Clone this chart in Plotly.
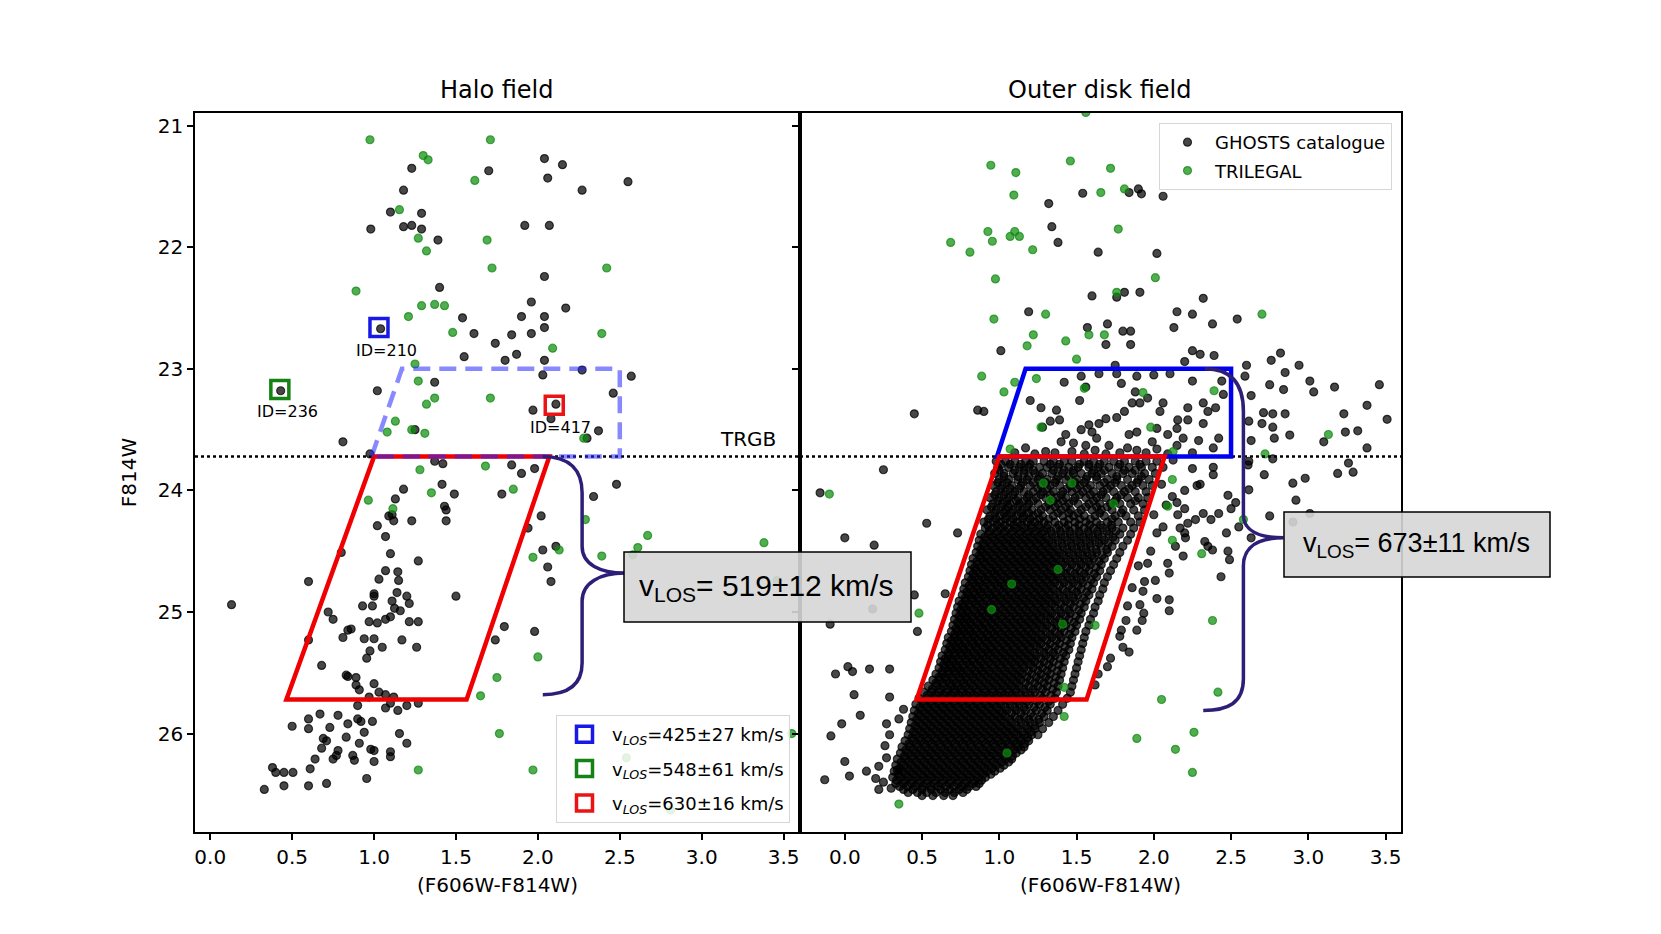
import plotly.graph_objects as go

# ---------------- data ----------------
# Halo field: GHOSTS catalogue stars (colour, F814W)
halo_ghosts = [
    (1.23, 21.35), (1.70, 21.37), (2.04, 21.27), (2.15, 21.32), (2.06, 21.43), (2.55, 21.46),
    (2.27, 21.53), (1.18, 21.53), (1.10, 21.71), (1.29, 21.72), (0.98, 21.85), (1.18, 21.83),
    (1.23, 21.82), (1.29, 21.85), (1.39, 21.94), (1.92, 21.82), (2.07, 21.82), (2.04, 22.24),
    (1.40, 22.33), (1.96, 22.45), (2.17, 22.50), (1.90, 22.57), (2.04, 22.57), (1.54, 22.58),
    (2.04, 22.66), (1.61, 22.71), (1.84, 22.72), (1.96, 22.71), (1.74, 22.79), (1.04, 22.67),
    (1.55, 22.90), (1.80, 22.93), (1.87, 22.88), (2.04, 22.93), (2.03, 23.05), (2.27, 23.01),
    (2.57, 23.06), (1.37, 23.11), (1.02, 23.18), (0.43, 23.18), (2.46, 23.20), (2.11, 23.29),
    (1.97, 23.34), (2.08, 23.41), (1.25, 23.50), (2.37, 23.51), (2.30, 23.57), (0.81, 23.60),
    (0.975, 23.70), (1.37, 23.76), (1.42, 23.78), (1.84, 23.79), (1.90, 23.86), (1.98, 23.82),
    (2.48, 23.95), (1.415, 23.95), (1.18, 23.99), (1.49, 24.03), (1.78, 24.03), (1.13, 24.07),
    (2.34, 24.05), (1.43, 24.13), (1.44, 24.16), (1.44, 24.25), (1.23, 24.25), (1.09, 24.21),
    (1.12, 24.25), (1.11, 24.20), (1.02, 24.29), (2.02, 24.21), (1.94, 24.31), (1.07, 24.38),
    (0.80, 24.51), (1.10, 24.52), (1.27, 24.58), (2.03, 24.49), (2.11, 24.46), (2.06, 24.63),
    (2.08, 24.75), (1.07, 24.66), (1.145, 24.67), (1.03, 24.73), (1.15, 24.74), (0.60, 24.75),
    (0.13, 24.94), (1.50, 24.87), (1.00, 24.85), (1.00, 24.87), (1.14, 24.84), (1.20, 24.87),
    (1.11, 24.91), (1.215, 24.93), (0.99, 24.95), (0.93, 24.95), (1.125, 24.97), (1.16, 24.99),
    (1.10, 25.04), (1.07, 25.06), (0.97, 25.08), (1.02, 25.09), (0.72, 25.00), (0.75, 25.06),
    (1.215, 25.08), (1.27, 25.08), (0.86, 25.14), (0.84, 25.15), (0.81, 25.21), (0.94, 25.22),
    (1.00, 25.22), (1.17, 25.23), (1.05, 25.29), (1.26, 25.29), (0.975, 25.32), (0.955, 25.38),
    (0.60, 25.23), (1.795, 25.12), (1.74, 25.23), (1.98, 25.16), (0.68, 25.44), (0.83, 25.52),
    (0.84, 25.53), (0.89, 25.54), (0.89, 25.60), (1.00, 25.59), (0.91, 25.64), (1.03, 25.66),
    (1.07, 25.68), (0.90, 25.77), (0.97, 25.70), (1.10, 25.75), (1.12, 25.70), (1.20, 25.77),
    (1.27, 25.75), (1.07, 25.79), (1.145, 25.81), (0.67, 25.84), (0.60, 25.88), (0.78, 25.85),
    (0.90, 25.88), (0.92, 25.90), (0.84, 25.92), (0.99, 25.90), (0.73, 25.95), (0.60, 25.96),
    (0.50, 25.94), (0.94, 25.99), (1.155, 26.00), (0.69, 26.04), (0.83, 26.03), (0.71, 26.06),
    (0.91, 26.08), (1.20, 26.08), (0.68, 26.12), (0.98, 26.13), (1.00, 26.14), (0.78, 26.14),
    (0.77, 26.18), (0.75, 26.21), (0.87, 26.18), (1.10, 26.15), (1.10, 26.19), (1.00, 26.23),
    (0.88, 26.22), (0.64, 26.21), (0.61, 26.29), (0.38, 26.28), (0.40, 26.32), (0.45, 26.32),
    (0.505, 26.32), (0.955, 26.37), (0.33, 26.46), (0.45, 26.43), (0.60, 26.43), (0.71, 26.41),
]

# Halo field: TRILEGAL foreground model
halo_trilegal = [
    (0.975, 21.115), (1.71, 21.115), (1.30, 21.245), (1.33, 21.28), (1.615, 21.45), (1.155, 21.69),
    (1.27, 21.925), (1.69, 21.94), (1.32, 22.03), (1.72, 22.17), (2.42, 22.17), (0.89, 22.36),
    (1.29, 22.48), (1.37, 22.47), (1.43, 22.48), (1.21, 22.57), (1.48, 22.70), (2.39, 22.71),
    (2.09, 22.83), (1.25, 22.96), (1.27, 23.10), (1.37, 23.24), (1.32, 23.29), (1.71, 23.24),
    (1.13, 23.43), (1.08, 23.52), (1.23, 23.50), (1.31, 23.53), (2.28, 23.57), (1.28, 23.83),
    (1.68, 23.80), (0.965, 24.08), (1.115, 24.15), (1.35, 24.02), (1.85, 23.99), (2.29, 24.24),
    (2.67, 24.37), (2.61, 24.47), (2.39, 24.54), (2.13, 24.49), (1.97, 24.55), (3.38, 24.43),
    (2.58, 24.53), (2.00, 25.37), (1.75, 25.54), (1.65, 25.69), (1.765, 26.00), (1.27, 26.30),
    (1.97, 26.30), (3.55, 26.00), (3.46, 24.74), (2.54, 26.20), (2.81, 26.63),
]

# Outer disk field: scattered GHOSTS stars outside the dense RGB
disk_ghosts_sparse = [
    (1.54, 21.555), (1.84, 21.55), (1.92, 21.56), (1.90, 21.52), (2.06, 21.58), (1.32, 21.64),
    (1.34, 21.83), (1.38, 21.96), (1.64, 22.04), (2.02, 22.05), (1.60, 22.40), (1.81, 22.37),
    (1.91, 22.37), (1.76, 22.41), (2.32, 22.42), (1.19, 22.53), (2.15, 22.53), (2.25, 22.55),
    (2.54, 22.59), (2.38, 22.63), (2.13, 22.66), (1.57, 22.66), (1.70, 22.63), (1.80, 22.69),
    (1.85, 22.69), (1.69, 22.80), (1.85, 22.80), (1.01, 22.85), (2.25, 22.85), (2.30, 22.88),
    (2.39, 22.89), (2.20, 22.94), (2.82, 22.87), (2.76, 22.93), (2.94, 22.97), (2.60, 22.97),
    (1.75, 22.97), (2.85, 23.03), (2.59, 23.06), (3.46, 23.13), (3.17, 23.15), (3.01, 23.10),
    (3.035, 23.19), (2.75, 23.13), (2.84, 23.17), (2.63, 23.22), (3.38, 23.30), (3.23, 23.37),
    (3.51, 23.415), (0.45, 23.37), (0.86, 23.34), (0.90, 23.35), (2.71, 23.36), (2.77, 23.37),
    (2.85, 23.37), (2.615, 23.43), (2.70, 23.45), (2.77, 23.48), (3.24, 23.52), (3.32, 23.51),
    (2.88, 23.545), (2.78, 23.57), (3.10, 23.60), (3.38, 23.65), (2.63, 23.59), (2.77, 23.74),
    (0.25, 23.83), (2.61, 23.79),
    # inside the upper (AGB) box
    (1.20, 23.26), (1.42, 23.11), (1.53, 23.06), (1.645, 23.04), (1.76, 23.04), (1.89, 23.06),
    (2.00, 23.05), (2.105, 23.04), (2.25, 23.10), (2.44, 23.10), (2.45, 23.21), (2.40, 23.32),
    (2.32, 23.28), (2.22, 23.32), (2.22, 23.42), (2.15, 23.49), (2.19, 23.57), (2.09, 23.54),
    (2.02, 23.49), (2.04, 23.35), (2.06, 23.28), (1.96, 23.24), (1.88, 23.19), (1.86, 23.28),
    (1.91, 23.28), (1.81, 23.35), (1.76, 23.40), (1.69, 23.41), (1.645, 23.45), (1.58, 23.46),
    (1.53, 23.50), (1.63, 23.57), (1.52, 23.26), (1.37, 23.34), (1.39, 23.42), (1.33, 23.43),
    (1.28, 23.48), (1.56, 23.15), (1.79, 23.12), (1.89, 23.52), (1.99, 23.60), (1.83, 23.65),
    (1.89, 23.67), (1.71, 23.63), (1.56, 23.63), (1.48, 23.61), (1.40, 23.60), (1.30, 23.68),
    (1.23, 23.70), (1.17, 23.65), (2.385, 23.65), (2.42, 23.57), (2.29, 23.59), (2.15, 23.63),
    (2.09, 23.70), (1.69, 23.70), (2.155, 23.42), (2.32, 23.45), (2.35, 23.35), (1.27, 23.32),
    (1.43, 23.54), (1.84, 23.54), (1.10, 23.69), (1.36, 23.69), (1.47, 23.68), (1.55, 23.70),
    (1.62, 23.67), (1.78, 23.69), (1.95, 23.69), (2.02, 23.66), (2.25, 23.69), (1.60, 23.52),
    # left of the RGB
    (-0.16, 24.02), (0.53, 24.27), (0.00, 24.39), (0.19, 24.45), (0.73, 24.35), (-0.095, 25.10),
    (0.18, 24.975), (0.45, 24.86), (0.65, 24.85), (0.47, 25.16), (-0.06, 25.51), (0.02, 25.45),
    (0.05, 25.49), (0.16, 25.47), (0.29, 25.47), (0.06, 25.68), (0.29, 25.70), (0.10, 25.85),
    (-0.02, 25.92), (-0.09, 26.02), (0.27, 25.92), (0.29, 26.01), (0.00, 26.23), (0.03, 26.35),
    (0.14, 26.31), (-0.13, 26.38), (0.22, 26.27), (0.20, 26.37), (0.34, 26.30), (0.22, 26.46),
    (0.30, 26.45), (0.26, 26.10), (0.27, 26.20), (0.35, 25.88), (0.38, 25.80), (0.25, 26.40),
    # right of the RGB
    (2.125, 23.75), (2.25, 23.82), (2.385, 23.81), (2.385, 23.87), (2.615, 23.76), (2.715, 23.87),
    (2.90, 23.94), (2.98, 23.90), (3.19, 23.86), (3.29, 23.85), (3.26, 23.775), (2.92, 24.08),
    (2.615, 23.995), (2.48, 24.04), (2.42, 24.19), (2.50, 24.15), (2.32, 24.19), (2.27, 24.24),
    (2.22, 24.27), (2.20, 24.15), (2.155, 24.20), (2.28, 23.96), (2.55, 24.30), (2.75, 24.21),
    (2.47, 24.35), (2.35, 24.46), (2.48, 24.50), (2.435, 24.71), (2.63, 24.39), (2.20, 24.35),
    (2.14, 24.46), (2.19, 24.54), (2.09, 24.60), (2.10, 24.68), (2.01, 24.74), (1.94, 24.75),
    (1.93, 24.83), (2.02, 24.89), (1.91, 24.94), (1.935, 25.01), (2.10, 24.99), (1.925, 25.07),
    (1.89, 25.15), (1.79, 25.15), (1.80, 25.29), (1.84, 25.33), (1.64, 25.51), (1.96, 24.60),
    (2.37, 24.24), (2.53, 24.10), (3.01, 24.19), (2.90, 24.26), (2.17, 24.31), (2.205, 24.39),
    (2.33, 24.42), (2.38, 24.49), (2.49, 24.57), (2.10, 24.90), (2.05, 23.95), (2.12, 24.05),
    (2.20, 24.00), (2.08, 24.12), (2.15, 24.10), (2.30, 23.95), (2.02, 24.35), (1.98, 24.50),
    (1.90, 24.62), (1.86, 24.80), (1.83, 24.95), (1.82, 25.07), (1.72, 25.38), (1.78, 25.20),
    (2.06, 24.30), (2.00, 24.20), (1.70, 25.45), (1.62, 25.60),
]

# Outer disk field: the crowded red giant branch, one row of stars per magnitude step
disk_rgb_rows = [
    (23.76, [0.98, 1.04, 1.10, 1.17, 1.22, 1.29, 1.35, 1.42, 1.47, 1.55, 1.61, 1.68, 1.74, 1.81, 1.88, 1.95, 2.02]),
    (23.81, [0.99, 1.06, 1.13, 1.19, 1.26, 1.31, 1.38, 1.45, 1.51, 1.58, 1.64, 1.71, 1.77, 1.84, 1.92, 1.99, 2.06]),
    (23.86, [0.97, 1.03, 1.09, 1.16, 1.23, 1.28, 1.34, 1.41, 1.48, 1.53, 1.60, 1.66, 1.73, 1.80, 1.86, 1.94, 2.01]),
    (23.91, [1.00, 1.06, 1.12, 1.18, 1.25, 1.31, 1.37, 1.43, 1.50, 1.56, 1.63, 1.70, 1.76, 1.83, 1.90, 1.97]),
    (23.96, [0.96, 1.02, 1.08, 1.14, 1.20, 1.27, 1.33, 1.39, 1.46, 1.52, 1.59, 1.65, 1.72, 1.79, 1.86, 1.93, 1.99]),
    (24.01, [0.98, 1.04, 1.10, 1.16, 1.22, 1.28, 1.35, 1.41, 1.47, 1.54, 1.61, 1.67, 1.74, 1.81, 1.88, 1.95]),
    (24.06, [0.94, 1.00, 1.06, 1.12, 1.18, 1.24, 1.30, 1.37, 1.43, 1.49, 1.56, 1.63, 1.69, 1.76, 1.83, 1.90, 1.96]),
    (24.11, [0.96, 1.02, 1.07, 1.13, 1.19, 1.25, 1.32, 1.38, 1.45, 1.51, 1.58, 1.65, 1.72, 1.78, 1.85, 1.93]),
    (24.16, [0.92, 0.98, 1.04, 1.09, 1.15, 1.21, 1.27, 1.33, 1.40, 1.46, 1.53, 1.60, 1.66, 1.73, 1.80, 1.87, 1.94]),
    (24.21, [0.94, 1.00, 1.05, 1.11, 1.16, 1.22, 1.28, 1.35, 1.41, 1.48, 1.55, 1.62, 1.68, 1.75, 1.82, 1.90]),
    (24.26, [0.90, 0.96, 1.01, 1.07, 1.12, 1.18, 1.23, 1.29, 1.36, 1.42, 1.49, 1.56, 1.63, 1.70, 1.77, 1.85, 1.91]),
    (24.31, [0.91, 0.96, 1.01, 1.06, 1.11, 1.16, 1.21, 1.26, 1.31, 1.37, 1.43, 1.49, 1.55, 1.61, 1.67, 1.73, 1.80, 1.87]),
    (24.36, [0.88, 0.93, 0.98, 1.03, 1.08, 1.13, 1.18, 1.23, 1.28, 1.34, 1.40, 1.46, 1.52, 1.58, 1.64, 1.71, 1.78, 1.85]),
    (24.41, [0.87, 0.92, 0.97, 1.02, 1.07, 1.12, 1.17, 1.22, 1.27, 1.32, 1.38, 1.44, 1.50, 1.56, 1.62, 1.68, 1.75, 1.83]),
    (24.46, [0.86, 0.90, 0.95, 1.00, 1.05, 1.10, 1.15, 1.20, 1.25, 1.30, 1.35, 1.41, 1.47, 1.53, 1.59, 1.66, 1.73, 1.80]),
    (24.51, [0.85, 0.89, 0.94, 0.99, 1.04, 1.09, 1.14, 1.19, 1.24, 1.29, 1.34, 1.39, 1.45, 1.51, 1.57, 1.63, 1.70, 1.78]),
    (24.56, [0.83, 0.88, 0.92, 0.97, 1.02, 1.07, 1.12, 1.17, 1.22, 1.27, 1.32, 1.37, 1.43, 1.49, 1.55, 1.61, 1.68, 1.76]),
    (24.61, [0.82, 0.86, 0.91, 0.96, 1.01, 1.06, 1.11, 1.16, 1.21, 1.26, 1.31, 1.36, 1.41, 1.47, 1.53, 1.59, 1.66, 1.74]),
    (24.66, [0.81, 0.85, 0.90, 0.95, 0.99, 1.04, 1.09, 1.14, 1.19, 1.24, 1.29, 1.34, 1.40, 1.46, 1.52, 1.58, 1.65, 1.72]),
    (24.71, [0.80, 0.84, 0.89, 0.93, 0.98, 1.03, 1.08, 1.13, 1.18, 1.23, 1.28, 1.33, 1.38, 1.44, 1.50, 1.56, 1.63, 1.70]),
    (24.76, [0.78, 0.83, 0.87, 0.92, 0.97, 1.01, 1.06, 1.11, 1.16, 1.21, 1.26, 1.31, 1.36, 1.42, 1.48, 1.54, 1.61, 1.68]),
    (24.81, [0.77, 0.81, 0.86, 0.90, 0.95, 1.00, 1.05, 1.10, 1.15, 1.20, 1.25, 1.30, 1.35, 1.41, 1.47, 1.53, 1.60, 1.67]),
    (24.86, [0.76, 0.80, 0.84, 0.89, 0.94, 0.98, 1.03, 1.08, 1.13, 1.18, 1.23, 1.28, 1.33, 1.39, 1.45, 1.51, 1.58, 1.65]),
    (24.91, [0.74, 0.78, 0.83, 0.87, 0.92, 0.97, 1.02, 1.07, 1.12, 1.17, 1.22, 1.27, 1.32, 1.37, 1.43, 1.49, 1.56, 1.64]),
    (24.96, [0.73, 0.77, 0.81, 0.86, 0.91, 0.95, 1.00, 1.05, 1.10, 1.15, 1.20, 1.25, 1.30, 1.36, 1.42, 1.48, 1.55, 1.62]),
    (25.01, [0.72, 0.76, 0.80, 0.85, 0.89, 0.94, 0.99, 1.04, 1.09, 1.14, 1.19, 1.24, 1.29, 1.34, 1.40, 1.46, 1.53, 1.61]),
    (25.06, [0.71, 0.75, 0.79, 0.83, 0.88, 0.93, 0.97, 1.02, 1.07, 1.12, 1.17, 1.22, 1.27, 1.33, 1.39, 1.45, 1.52, 1.59]),
    (25.11, [0.70, 0.74, 0.78, 0.82, 0.87, 0.91, 0.96, 1.01, 1.06, 1.11, 1.16, 1.21, 1.26, 1.31, 1.37, 1.43, 1.50, 1.58]),
    (25.16, [0.69, 0.73, 0.77, 0.81, 0.85, 0.90, 0.95, 0.99, 1.04, 1.09, 1.14, 1.19, 1.24, 1.30, 1.36, 1.42, 1.49, 1.56]),
    (25.21, [0.67, 0.71, 0.75, 0.80, 0.84, 0.89, 0.93, 0.98, 1.03, 1.08, 1.13, 1.18, 1.23, 1.28, 1.34, 1.40, 1.47, 1.55]),
    (25.26, [0.66, 0.70, 0.74, 0.78, 0.83, 0.87, 0.92, 0.97, 1.02, 1.07, 1.12, 1.17, 1.22, 1.27, 1.33, 1.39, 1.46, 1.54]),
    (25.31, [0.65, 0.69, 0.73, 0.77, 0.81, 0.86, 0.91, 0.95, 1.00, 1.05, 1.10, 1.15, 1.20, 1.26, 1.32, 1.38, 1.45, 1.53]),
    (25.36, [0.63, 0.67, 0.71, 0.76, 0.80, 0.85, 0.89, 0.94, 0.99, 1.04, 1.09, 1.14, 1.19, 1.24, 1.30, 1.36, 1.43, 1.52]),
    (25.41, [0.62, 0.66, 0.70, 0.74, 0.79, 0.83, 0.88, 0.93, 0.98, 1.03, 1.08, 1.13, 1.18, 1.23, 1.29, 1.35, 1.42, 1.51]),
    (25.46, [0.61, 0.65, 0.69, 0.73, 0.77, 0.82, 0.87, 0.91, 0.96, 1.01, 1.06, 1.11, 1.16, 1.22, 1.28, 1.34, 1.41, 1.50]),
    (25.51, [0.59, 0.63, 0.67, 0.72, 0.76, 0.81, 0.85, 0.90, 0.95, 1.00, 1.05, 1.10, 1.15, 1.21, 1.27, 1.33, 1.40, 1.49]),
    (25.56, [0.57, 0.61, 0.66, 0.70, 0.75, 0.79, 0.84, 0.89, 0.94, 0.99, 1.04, 1.09, 1.14, 1.20, 1.26, 1.32, 1.39, 1.48]),
    (25.61, [0.54, 0.59, 0.64, 0.69, 0.73, 0.78, 0.83, 0.88, 0.93, 0.98, 1.03, 1.08, 1.13, 1.19, 1.25, 1.31, 1.38, 1.47]),
    (25.66, [0.51, 0.56, 0.61, 0.66, 0.71, 0.76, 0.81, 0.86, 0.91, 0.96, 1.01, 1.06, 1.11, 1.17, 1.23, 1.30, 1.37, 1.46]),
    (25.71, [0.48, 0.53, 0.58, 0.63, 0.68, 0.73, 0.78, 0.83, 0.88, 0.93, 0.98, 1.03, 1.09, 1.15, 1.21, 1.28, 1.36, 1.44]),
    (25.76, [0.46, 0.51, 0.56, 0.61, 0.66, 0.71, 0.76, 0.81, 0.86, 0.91, 0.96, 1.01, 1.07, 1.13, 1.19, 1.26, 1.33, 1.41]),
    (25.81, [0.45, 0.50, 0.55, 0.60, 0.65, 0.70, 0.75, 0.80, 0.85, 0.90, 0.95, 1.00, 1.05, 1.11, 1.17, 1.24, 1.31, 1.38]),
    (25.86, [0.44, 0.49, 0.54, 0.59, 0.64, 0.69, 0.74, 0.79, 0.84, 0.89, 0.94, 0.99, 1.04, 1.10, 1.16, 1.22, 1.29, 1.35]),
    (25.91, [0.43, 0.48, 0.53, 0.58, 0.63, 0.68, 0.73, 0.78, 0.83, 0.88, 0.93, 0.98, 1.03, 1.08, 1.14, 1.20, 1.26, 1.32]),
    (25.96, [0.42, 0.47, 0.52, 0.57, 0.62, 0.67, 0.72, 0.77, 0.82, 0.87, 0.92, 0.97, 1.02, 1.07, 1.12, 1.18, 1.23, 1.28]),
    (26.01, [0.41, 0.46, 0.51, 0.56, 0.61, 0.66, 0.71, 0.76, 0.81, 0.86, 0.91, 0.96, 1.01, 1.06, 1.11, 1.16, 1.21, 1.25]),
    (26.06, [0.39, 0.44, 0.49, 0.54, 0.59, 0.64, 0.69, 0.74, 0.79, 0.84, 0.89, 0.94, 0.99, 1.04, 1.09, 1.14, 1.19]),
    (26.11, [0.37, 0.42, 0.47, 0.52, 0.57, 0.62, 0.67, 0.72, 0.77, 0.82, 0.87, 0.92, 0.97, 1.02, 1.07, 1.12, 1.16]),
    (26.16, [0.36, 0.41, 0.46, 0.51, 0.56, 0.61, 0.66, 0.71, 0.76, 0.81, 0.86, 0.91, 0.96, 1.01, 1.06, 1.11]),
    (26.21, [0.34, 0.39, 0.44, 0.49, 0.54, 0.59, 0.64, 0.69, 0.74, 0.79, 0.84, 0.89, 0.94, 0.99, 1.04, 1.08]),
    (26.26, [0.33, 0.38, 0.43, 0.48, 0.53, 0.58, 0.63, 0.68, 0.73, 0.78, 0.83, 0.88, 0.93, 0.98, 1.03]),
    (26.31, [0.32, 0.37, 0.42, 0.47, 0.52, 0.57, 0.62, 0.67, 0.72, 0.77, 0.82, 0.87, 0.92, 0.97]),
    (26.36, [0.31, 0.36, 0.41, 0.46, 0.51, 0.56, 0.61, 0.66, 0.71, 0.76, 0.81, 0.86, 0.91]),
    (26.41, [0.33, 0.38, 0.43, 0.48, 0.53, 0.58, 0.63, 0.68, 0.73, 0.78, 0.83, 0.87]),
    (26.46, [0.38, 0.44, 0.50, 0.56, 0.62, 0.68, 0.74, 0.79]),
    (26.51, [0.50, 0.57, 0.64, 0.70]),
]

# Outer disk field: the stars lying between the rows above (densest part of the RGB)
disk_rgb_rows_between = [
    (23.785, [1.01, 1.07, 1.14, 1.20, 1.33, 1.39, 1.52, 1.58, 1.65, 1.78, 1.91]),
    (23.835, [1.00, 1.10, 1.16, 1.22, 1.35, 1.42, 1.48, 1.61, 1.68, 1.81, 1.88]),
    (23.885, [1.03, 1.12, 1.19, 1.26, 1.38, 1.45, 1.57, 1.63, 1.76, 1.92]),
    (23.935, [0.99, 1.05, 1.15, 1.22, 1.30, 1.36, 1.49, 1.55, 1.68, 1.75, 1.89]),
    (23.985, [1.01, 1.07, 1.13, 1.25, 1.31, 1.44, 1.50, 1.57, 1.70, 1.84]),
    (24.035, [0.97, 1.03, 1.09, 1.19, 1.27, 1.33, 1.40, 1.52, 1.59, 1.66, 1.79]),
    (24.085, [0.99, 1.05, 1.11, 1.16, 1.22, 1.35, 1.41, 1.48, 1.61, 1.75, 1.88]),
    (24.135, [0.95, 1.01, 1.06, 1.12, 1.18, 1.30, 1.36, 1.43, 1.56, 1.63, 1.70]),
    (24.185, [0.97, 1.03, 1.08, 1.14, 1.19, 1.25, 1.38, 1.45, 1.51, 1.65, 1.79]),
    (24.235, [0.93, 0.98, 1.04, 1.09, 1.15, 1.20, 1.26, 1.32, 1.45, 1.52, 1.59, 1.73]),
    (24.285, [0.925, 0.985, 1.035, 1.095, 1.145, 1.205, 1.255, 1.315, 1.385, 1.445, 1.515, 1.585, 1.655, 1.725]),
    (24.335, [0.935, 0.985, 1.035, 1.085, 1.135, 1.185, 1.235, 1.285, 1.335, 1.395, 1.455, 1.515, 1.575, 1.635, 1.695, 1.755]),
    (24.385, [0.905, 0.955, 1.005, 1.055, 1.105, 1.155, 1.205, 1.255, 1.305, 1.365, 1.425, 1.485, 1.545, 1.605, 1.665, 1.735]),
    (24.435, [0.895, 0.945, 0.995, 1.045, 1.095, 1.145, 1.195, 1.245, 1.295, 1.345, 1.405, 1.465, 1.525, 1.585, 1.645, 1.705]),
    (24.485, [0.88, 0.925, 0.975, 1.025, 1.075, 1.125, 1.175, 1.225, 1.275, 1.325, 1.38, 1.44, 1.50, 1.56, 1.625, 1.695]),
    (24.535, [0.87, 0.915, 0.965, 1.015, 1.065, 1.115, 1.165, 1.215, 1.265, 1.315, 1.365, 1.42, 1.48, 1.54, 1.60, 1.665]),
    (24.585, [0.855, 0.90, 0.945, 0.995, 1.045, 1.095, 1.145, 1.195, 1.245, 1.295, 1.345, 1.40, 1.46, 1.52, 1.58, 1.645]),
    (24.635, [0.84, 0.885, 0.935, 0.985, 1.035, 1.085, 1.135, 1.185, 1.235, 1.285, 1.335, 1.385, 1.44, 1.50, 1.56, 1.625]),
    (24.685, [0.83, 0.875, 0.925, 0.97, 1.015, 1.065, 1.115, 1.165, 1.215, 1.265, 1.315, 1.37, 1.43, 1.49, 1.55, 1.615]),
    (24.735, [0.82, 0.865, 0.91, 0.955, 1.005, 1.055, 1.105, 1.155, 1.205, 1.255, 1.305, 1.355, 1.41, 1.47, 1.53, 1.595]),
    (24.785, [0.805, 0.85, 0.895, 0.945, 0.99, 1.035, 1.085, 1.135, 1.185, 1.235, 1.285, 1.335, 1.39, 1.45, 1.51, 1.575]),
    (24.835, [0.79, 0.835, 0.88, 0.925, 0.975, 1.025, 1.075, 1.125, 1.175, 1.225, 1.275, 1.325, 1.38, 1.44, 1.50, 1.565]),
    (24.885, [0.78, 0.82, 0.865, 0.915, 0.96, 1.005, 1.055, 1.105, 1.155, 1.205, 1.255, 1.305, 1.36, 1.42, 1.48, 1.545]),
    (24.935, [0.76, 0.805, 0.85, 0.895, 0.945, 0.995, 1.045, 1.095, 1.145, 1.195, 1.245, 1.295, 1.345, 1.40, 1.46, 1.525]),
    (24.985, [0.75, 0.79, 0.835, 0.885, 0.93, 0.975, 1.025, 1.075, 1.125, 1.175, 1.225, 1.275, 1.33, 1.39, 1.45, 1.515]),
    (25.035, [0.74, 0.78, 0.825, 0.87, 0.915, 0.965, 1.015, 1.065, 1.115, 1.165, 1.215, 1.265, 1.315, 1.37, 1.43, 1.495]),
    (25.085, [0.73, 0.77, 0.81, 0.855, 0.905, 0.95, 0.995, 1.045, 1.095, 1.145, 1.195, 1.245, 1.30, 1.36, 1.42, 1.485]),
    (25.135, [0.72, 0.76, 0.80, 0.845, 0.89, 0.935, 0.985, 1.035, 1.085, 1.135, 1.185, 1.235, 1.285, 1.34, 1.40, 1.465]),
    (25.185, [0.71, 0.75, 0.79, 0.83, 0.875, 0.925, 0.97, 1.015, 1.065, 1.115, 1.165, 1.215, 1.27, 1.33, 1.39, 1.455]),
    (25.235, [0.69, 0.73, 0.775, 0.82, 0.865, 0.91, 0.955, 1.005, 1.055, 1.105, 1.155, 1.205, 1.255, 1.31, 1.37, 1.435]),
    (25.285, [0.68, 0.72, 0.76, 0.805, 0.85, 0.895, 0.945, 0.995, 1.045, 1.095, 1.145, 1.195, 1.245, 1.30, 1.36, 1.425]),
    (25.335, [0.67, 0.71, 0.75, 0.79, 0.835, 0.885, 0.93, 0.975, 1.025, 1.075, 1.125, 1.175, 1.23, 1.29, 1.35, 1.415]),
    (25.385, [0.65, 0.69, 0.735, 0.78, 0.825, 0.87, 0.915, 0.965, 1.015, 1.065, 1.115, 1.165, 1.215, 1.27, 1.33, 1.395]),
    (25.435, [0.64, 0.68, 0.72, 0.765, 0.81, 0.855, 0.905, 0.955, 1.005, 1.055, 1.105, 1.155, 1.205, 1.26, 1.32, 1.385]),
    (25.485, [0.63, 0.67, 0.71, 0.75, 0.795, 0.845, 0.89, 0.935, 0.985, 1.035, 1.085, 1.135, 1.19, 1.25, 1.31, 1.375]),
    (25.535, [0.61, 0.65, 0.695, 0.74, 0.785, 0.83, 0.875, 0.925, 0.975, 1.025, 1.075, 1.125, 1.18, 1.24, 1.30, 1.365]),
    (25.585, [0.59, 0.635, 0.68, 0.725, 0.77, 0.815, 0.865, 0.915, 0.965, 1.015, 1.065, 1.115, 1.17, 1.23, 1.29, 1.355]),
    (25.635, [0.565, 0.615, 0.665, 0.71, 0.755, 0.805, 0.855, 0.905, 0.955, 1.005, 1.055, 1.105, 1.16, 1.22, 1.28, 1.345]),
    (25.685, [0.535, 0.585, 0.635, 0.685, 0.735, 0.785, 0.835, 0.885, 0.935, 0.985, 1.035, 1.085, 1.14, 1.20, 1.265, 1.335]),
    (25.735, [0.505, 0.555, 0.605, 0.655, 0.705, 0.755, 0.805, 0.855, 0.905, 0.955, 1.005, 1.06, 1.12, 1.18, 1.245, 1.32]),
    (25.785, [0.485, 0.535, 0.585, 0.635, 0.685, 0.735, 0.785, 0.835, 0.885, 0.935, 0.985, 1.04, 1.10, 1.16, 1.225, 1.295]),
    (25.835, [0.475, 0.525, 0.575, 0.625, 0.675, 0.725, 0.775, 0.825, 0.875, 0.925, 0.975, 1.025, 1.08, 1.14, 1.205, 1.275]),
    (25.885, [0.465, 0.515, 0.565, 0.615, 0.665, 0.715, 0.765, 0.815, 0.865, 0.915, 0.965, 1.015, 1.07, 1.13, 1.19, 1.255]),
    (25.935, [0.455, 0.505, 0.555, 0.605, 0.655, 0.705, 0.755, 0.805, 0.855, 0.905, 0.955, 1.005, 1.055, 1.11, 1.17, 1.23]),
    (25.985, [0.445, 0.495, 0.545, 0.595, 0.645, 0.695, 0.745, 0.795, 0.845, 0.895, 0.945, 0.995, 1.045, 1.095, 1.15, 1.205]),
    (26.035, [0.435, 0.485, 0.535, 0.585, 0.635, 0.685, 0.735, 0.785, 0.835, 0.885, 0.935, 0.985, 1.035, 1.085, 1.135, 1.185]),
    (26.085, [0.415, 0.465, 0.515, 0.565, 0.615, 0.665, 0.715, 0.765, 0.815, 0.865, 0.915, 0.965, 1.015, 1.065, 1.115, 1.165]),
    (26.135, [0.395, 0.445, 0.495, 0.545, 0.595, 0.645, 0.695, 0.745, 0.795, 0.845, 0.895, 0.945, 0.995, 1.045, 1.095, 1.14]),
    (26.185, [0.385, 0.435, 0.485, 0.535, 0.585, 0.635, 0.685, 0.735, 0.785, 0.835, 0.885, 0.935, 0.985, 1.035, 1.085]),
    (26.235, [0.365, 0.415, 0.465, 0.515, 0.565, 0.615, 0.665, 0.715, 0.765, 0.815, 0.865, 0.915, 0.965, 1.015, 1.06]),
    (26.285, [0.355, 0.405, 0.455, 0.505, 0.555, 0.605, 0.655, 0.705, 0.755, 0.805, 0.855, 0.905, 0.955, 1.005]),
    (26.335, [0.345, 0.395, 0.445, 0.495, 0.545, 0.595, 0.645, 0.695, 0.745, 0.795, 0.845, 0.895, 0.945]),
    (26.385, [0.335, 0.385, 0.435, 0.485, 0.535, 0.585, 0.635, 0.685, 0.735, 0.785, 0.835, 0.885]),
    (26.435, [0.355, 0.405, 0.455, 0.505, 0.555, 0.605, 0.655, 0.705, 0.755, 0.805, 0.85]),
    (26.485, [0.41, 0.47, 0.53, 0.59, 0.65, 0.71, 0.765]),
]

# Outer disk field: TRILEGAL foreground model
disk_trilegal = [
    (0.945, 21.325), (1.107, 21.385), (1.46, 21.29), (1.72, 21.35), (1.094, 21.57), (1.657, 21.55),
    (1.81, 21.52), (1.77, 21.85), (0.926, 21.87), (0.955, 21.95), (1.07, 21.91), (1.10, 21.87),
    (1.13, 21.91), (0.685, 21.96), (0.81, 22.04), (1.216, 22.02), (0.975, 22.26), (2.01, 22.25),
    (1.76, 22.37), (0.965, 22.59), (1.30, 22.55), (2.70, 22.55), (1.22, 22.72), (1.18, 22.81),
    (1.43, 22.77), (1.58, 22.72), (1.68, 22.72), (1.50, 22.92), (0.886, 23.06), (1.10, 23.11),
    (1.24, 23.08), (1.03, 23.19), (1.55, 23.16), (1.93, 23.195), (2.39, 23.18), (1.27, 23.48),
    (1.98, 23.48), (3.13, 23.54), (1.07, 23.66), (2.125, 23.68), (2.72, 23.70), (1.56, 20.89),
    (-0.10, 24.03), (1.285, 23.94), (1.33, 24.08), (1.47, 23.94), (1.74, 24.11), (2.12, 23.91),
    (2.09, 24.13), (1.38, 24.65), (1.08, 24.77), (0.95, 24.98), (0.48, 25.01), (1.41, 25.10),
    (1.62, 25.11), (2.12, 24.41), (2.31, 24.52), (2.38, 25.07), (2.58, 24.24), (2.415, 25.66),
    (2.05, 25.72), (1.42, 25.62), (1.42, 25.86), (1.05, 26.16), (1.89, 26.04), (2.14, 26.13),
    (2.26, 25.99), (2.25, 26.32), (0.35, 26.58),
]

# spectroscopic targets in the halo field
target_ids = ["210", "236", "417"]
target_x = [1.03, 0.425, 2.10]
target_y = [22.66, 23.17, 23.30]
target_vlos = ["425±27", "548±61", "630±16"]

# selection regions and reference magnitude
trgb_mag = 23.72
rgb_box = [(1.0, 23.72), (2.07, 23.72), (1.565, 25.72), (0.465, 25.72)]
agb_box = [(0.985, 23.72), (1.17, 23.0), (2.5, 23.0), (2.5, 23.72)]
mean_vlos = {"halo": "519±12", "disk": "673±11"}

x_ticks = [0.0, 0.5, 1.0, 1.5, 2.0, 2.5, 3.0, 3.5]
y_ticks = [21, 22, 23, 24, 25, 26]

# ---------------- figure ----------------
# the page keeps the browser's 8 px body margin, so the figure is 16 px smaller
PAGE_OFF = 8
FIG_W, FIG_H = 1661 - 2 * PAGE_OFF, 934 - 2 * PAGE_OFF
dark = "rgba(0,0,0,0.72)"
green = "rgba(15,140,15,0.72)"
target_colors = ["rgb(25,25,230)", "rgb(20,130,20)", "rgb(235,20,20)"]
brace_color = "rgb(46,30,120)"
dark_marker = dict(size=8, color=dark, line=dict(width=1.2, color=dark))
green_marker = dict(size=8, color=green, line=dict(width=1.2, color=green))


def px(x):
    # window pixel -> paper fraction
    return (x - PAGE_OFF) / FIG_W


def py(y):
    return 1 - (y - PAGE_OFF) / FIG_H


def unzip(pairs):
    return [p[0] for p in pairs], [p[1] for p in pairs]


def rows_to_xy(rows):
    xs = [x for y, row in rows for x in row]
    ys = [y for y, row in rows for x in row]
    return xs, ys


def poly_path(verts, closed=True):
    s = "M " + " L ".join(f"{x},{y}" for x, y in verts)
    return s + (" Z" if closed else "")


fig = go.Figure()

hx, hy = unzip(halo_ghosts)
fig.add_trace(go.Scatter(x=hx, y=hy, mode="markers", name="GHOSTS catalogue",
                         legendgroup="g1", marker=dark_marker,
                         xaxis="x", yaxis="y", legend="legend"))
tx, ty = unzip(halo_trilegal)
fig.add_trace(go.Scatter(x=tx, y=ty, mode="markers", name="TRILEGAL",
                         legendgroup="g2", marker=green_marker,
                         xaxis="x", yaxis="y", legend="legend"))

for tid, x, y, v, c in zip(target_ids, target_x, target_y, target_vlos, target_colors):
    fig.add_trace(go.Scatter(
        x=[x], y=[y], mode="markers",
        name=f"v<sub><i>LOS</i></sub>={v} km/s", legendgroup="t" + tid,
        marker=dict(symbol="square-open", size=18, color=c, line=dict(width=3.5, color=c)),
        xaxis="x", yaxis="y", legend="legend2"))

dx, dy = unzip(disk_ghosts_sparse)
r1x, r1y = rows_to_xy(disk_rgb_rows)
r2x, r2y = rows_to_xy(disk_rgb_rows_between)
fig.add_trace(go.Scatter(x=dx + r1x + r2x, y=dy + r1y + r2y, mode="markers", showlegend=False,
                         marker=dark_marker, xaxis="x2", yaxis="y2"))
gx, gy = unzip(disk_trilegal)
fig.add_trace(go.Scatter(x=gx, y=gy, mode="markers", showlegend=False,
                         marker=green_marker, xaxis="x2", yaxis="y2"))

shapes = []
# TRGB dotted line on both panels
for xr, yr in [("x", "y"), ("x2", "y2")]:
    shapes.append(dict(type="line", xref=f"{xr} domain", yref=yr, x0=0, x1=1,
                       y0=trgb_mag, y1=trgb_mag, line=dict(color="black", width=2.5, dash="dot")))
# selection boxes
shapes.append(dict(type="path", xref="x", yref="y", path=poly_path(rgb_box),
                   line=dict(color="rgb(240,0,0)", width=4.5)))
shapes.append(dict(type="path", xref="x", yref="y", path=poly_path(agb_box),
                   line=dict(color="rgba(40,40,255,0.55)", width=4.5, dash="17px,9px")))
shapes.append(dict(type="path", xref="x2", yref="y2", path=poly_path(agb_box),
                   line=dict(color="rgb(0,0,240)", width=4.5)))
shapes.append(dict(type="path", xref="x2", yref="y2", path=poly_path(rgb_box),
                   line=dict(color="rgb(240,0,0)", width=4.5)))

# curly braces
halo_brace = ("M 2.03,23.72 C 2.20,23.72 2.27,23.84 2.27,24.02 L 2.27,24.46 "
              "C 2.27,24.61 2.38,24.68 2.53,24.68 C 2.38,24.68 2.27,24.76 2.27,24.91 "
              "L 2.27,25.42 C 2.27,25.60 2.18,25.68 2.03,25.68")
disk_brace = ("M 2.33,23.0 C 2.50,23.0 2.58,23.12 2.58,23.35 L 2.58,24.20 "
              "C 2.58,24.33 2.68,24.39 2.84,24.39 C 2.68,24.39 2.58,24.46 2.58,24.62 "
              "L 2.58,25.55 C 2.58,25.75 2.48,25.81 2.32,25.81")
shapes.append(dict(type="path", xref="x", yref="y", path=halo_brace,
                   line=dict(color=brace_color, width=3.5)))
shapes.append(dict(type="path", xref="x2", yref="y2", path=disk_brace,
                   line=dict(color=brace_color, width=3.5)))

# grey boxes holding the mean velocities
for x0, x1, y0, y1 in [(624, 911, 552, 622), (1284, 1550, 512, 577)]:
    shapes.append(dict(type="rect", xref="paper", yref="paper",
                       x0=px(x0), x1=px(x1), y0=py(y1), y1=py(y0),
                       fillcolor="rgba(214,214,214,0.9)", line=dict(color="black", width=1.5)))


def label(text, x, y, size, xref="paper", yref="paper", family=None):
    f = dict(size=size)
    if family:
        f["family"] = family
    return dict(text=text, x=x, y=y, xref=xref, yref=yref, showarrow=False,
                xanchor="center", yanchor="middle", font=f)


annotations = [
    label("Halo field", px(497), py(90), 24),
    label("Outer disk field", px(1100), py(90), 24),
    label("TRGB", 3.28, 23.58, 20, "x", "y"),
    label(f"v<sub>LOS</sub>= {mean_vlos['halo']} km/s", px(766), py(587), 30,
          family="Liberation Sans, Arial"),
    label(f"v<sub>LOS</sub>= {mean_vlos['disk']} km/s", px(1416), py(545), 27,
          family="Liberation Sans, Arial"),
]
id_offsets = [(0.045, 0.19), (0.045, 0.18), (0.04, 0.18)]
for tid, x, y, (ox, oy) in zip(target_ids, target_x, target_y, id_offsets):
    annotations.append(label(f"ID={tid}", x + ox, y + oy, 16, "x", "y"))

axis_style = dict(showline=True, linecolor="black", linewidth=1.5, mirror=True,
                  ticks="outside", ticklen=6, tickwidth=1.5, tickcolor="black",
                  showgrid=False, zeroline=False, tickfont=dict(size=20))
x_text = [f"{v:.1f}" for v in x_ticks]
y_dom = [py(832), py(113)]
y_range = [26.81, 20.895]
legend_style = dict(xanchor="right", yanchor="top", bgcolor="rgba(255,255,255,0.85)",
                    bordercolor="#d6d6d6", borderwidth=1, font=dict(size=18),
                    itemsizing="trace", itemwidth=45)

fig.update_layout(
    width=FIG_W, height=FIG_H,
    margin=dict(l=0, r=0, t=0, b=0),
    paper_bgcolor="white", plot_bgcolor="white",
    font=dict(family="DejaVu Sans", size=20, color="black"),
    xaxis=dict(axis_style, domain=[px(195), px(800)], range=[-0.093, 3.60],
               tickvals=x_ticks, ticktext=x_text, anchor="y",
               title=dict(text="(F606W-F814W)", font=dict(size=20), standoff=10)),
    yaxis=dict(axis_style, domain=y_dom, range=y_range, tickvals=y_ticks, anchor="x",
               title=dict(text="F814W", font=dict(size=20), standoff=16)),
    xaxis2=dict(axis_style, domain=[px(800), px(1401)], range=[-0.29, 3.60],
                tickvals=x_ticks, ticktext=x_text, anchor="y2",
                title=dict(text="(F606W-F814W)", font=dict(size=20), standoff=10)),
    yaxis2=dict(axis_style, domain=y_dom, range=y_range, tickvals=y_ticks, anchor="x2",
                showticklabels=False),
    legend=dict(legend_style, x=px(1392), y=py(123), tracegroupgap=2),
    legend2=dict(legend_style, x=px(790), y=py(715), tracegroupgap=8),
    shapes=shapes,
    annotations=annotations,
)

fig.write_html("out.html")
